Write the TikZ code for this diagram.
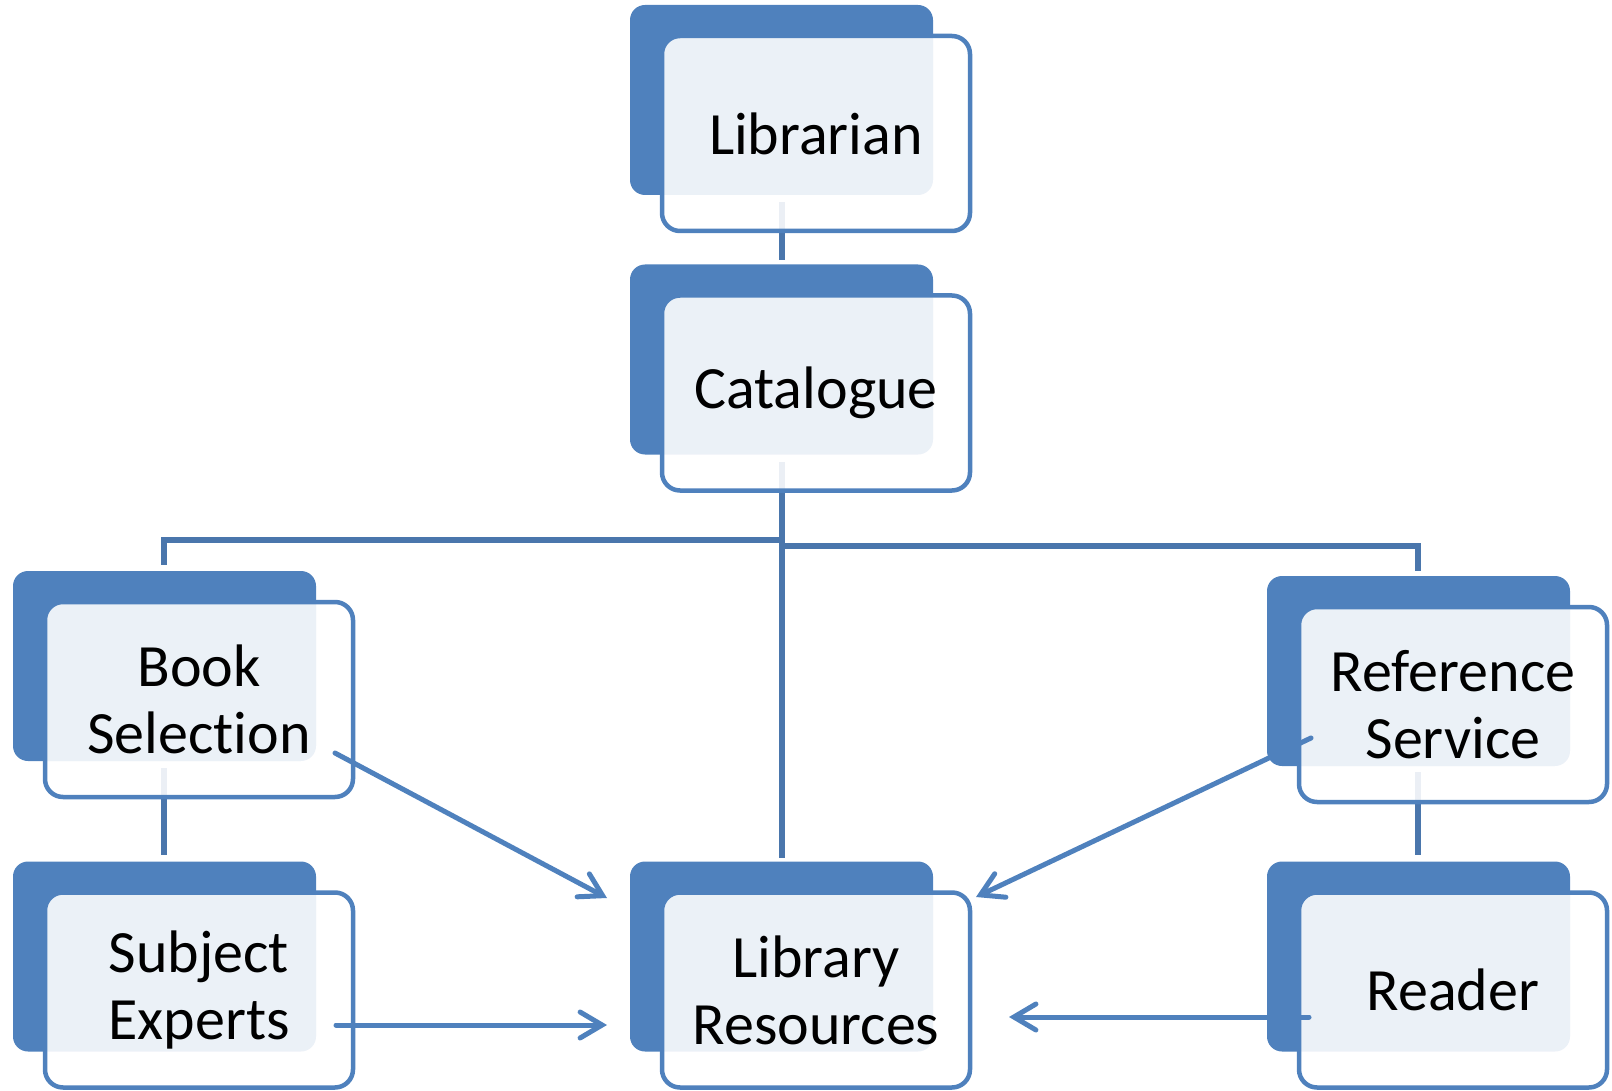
\documentclass[tikz,border=0pt]{standalone}
\usepackage{fontspec}
\setmainfont{Carlito}[Ligatures={NoCommon}]
\usetikzlibrary{calc,arrows.meta}
\pgfdeclarelayer{lines}
\pgfdeclarelayer{shadow}
\pgfsetlayers{lines,shadow,main}
\definecolor{accent}{HTML}{4F81BD}
\definecolor{treeline}{HTML}{4A76AC}
\begin{document}
\begin{tikzpicture}[x=0.5pt,y=-0.5pt,
 obox/.style={draw=accent, line width=2.25pt, fill=white, fill opacity=0.89, text opacity=1,
   rounded corners=9pt, minimum width=154pt, minimum height=97.5pt, outer sep=0pt,
   inner sep=0pt, align=center, font=\fontsize{30}{33.5}\selectfont, text=black},
 darkbox/.style={fill=accent, rounded corners=7.5pt},
 tree/.style={draw=treeline, line width=2.6pt},
 flow/.style={draw=accent, line width=2.5pt, line cap=round,
   -{Straight Barb[length=11pt,width=13pt,line cap=round]}}]
\useasboundingbox (0,0) rectangle (1612,1091);

% outline boxes (front)
\node[obox] (lib)    at (816,133.5) {Librarian};
\node[obox] (cat)    at (816,393)   {Catalogue};
\node[obox] (book)   at (199,699.5) {Book\\Selection};
\node[obox] (ref)    at (1453,704.5){Reference\\Service};
\node[obox] (subj)   at (199,990)   {Subject\\Experts};
\node[obox] (libres) at (816,990)   {Library\\Resources};
\node[obox] (reader) at (1453,990)  {Reader};

% dark back boxes
\begin{pgfonlayer}{shadow}
\foreach \n in {lib,cat,book,ref,subj,libres,reader}
  \fill[darkbox] ($(\n.north west)+(-32,-31)$) rectangle ($(\n.south east)+(-37,-36)$);
\end{pgfonlayer}

% tree connectors (behind boxes)
\begin{pgfonlayer}{lines}
\draw[tree] ($(lib.south)+(-34,-29)$) -- ($(cat.north)+(-34,-35)$);
\draw[tree] ($(cat.south)+(-34,-28.5)$) -- ($(libres.north)+(-34,-34.5)$);
\draw[tree] ($(cat.south)+(-34,49.5)$) -| ($(book.north)+(-35,-37)$);
\draw[tree] ($(cat.south)+(-34,55.5)$) -| ($(ref.north)+(-35,-36)$);
\draw[tree] ($(book.south)+(-35,-29)$) -- ($(subj.north)+(-35,-37.5)$);
\draw[tree] ($(ref.south)+(-35,-30)$) -- ($(reader.north)+(-35,-37.5)$);
\end{pgfonlayer}

% arrows (front)
\draw[flow] ($(book.south east)+(-18,-44)$) -- ($(libres.north west)+(-55,5.5)$);
\draw[flow] ($(subj.east)+(-17,35)$) -- ($(libres.west)+(-55,35)$);
\draw[flow] ($(ref.west)+(12,33.5)$) -- ($(libres.north east)+(6,4.5)$);
\draw[flow] ($(reader.west)+(10,27)$) -- ($(libres.east)+(39,27)$);
\end{tikzpicture}
\end{document}
